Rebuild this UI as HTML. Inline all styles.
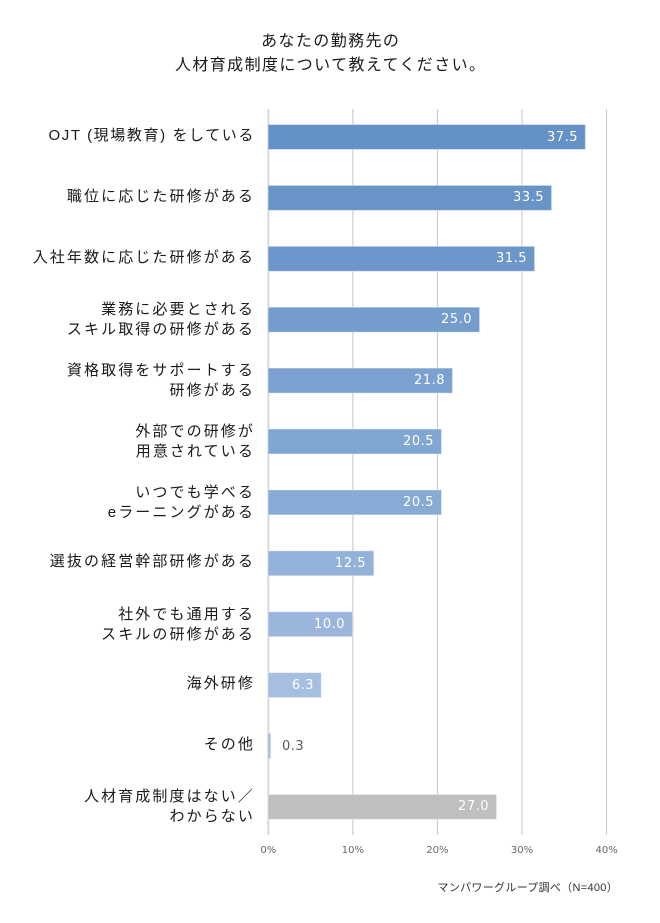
<!DOCTYPE html>
<html><head><meta charset="utf-8">
<style>
html,body{margin:0;padding:0;background:#fff;}
#c{position:relative;width:660px;height:923px;overflow:hidden;background:#fff;font-family:"Liberation Sans","Noto Sans CJK JP",sans-serif;color:#1a1a1a;}
.t{position:absolute;left:0;width:660px;text-align:center;font-size:16px;line-height:24px;letter-spacing:1.4px;padding-left:1.4px;box-sizing:border-box;}
.lb{position:absolute;right:405px;width:250px;text-align:right;font-size:15px;line-height:20px;letter-spacing:2.1px;white-space:nowrap;color:#1a1a1a;}
.v{position:absolute;font-family:"DejaVu Sans","Liberation Sans",sans-serif;font-size:13px;line-height:25px;letter-spacing:0.5px;color:#fff;text-align:right;width:60px;}
.tk{position:absolute;top:845px;width:40px;margin-left:-20px;text-align:center;font-family:"DejaVu Sans","Liberation Sans",sans-serif;font-size:10px;line-height:12px;color:#666;}
.src{position:absolute;right:42px;top:881px;font-size:11px;line-height:14px;letter-spacing:0.3px;color:#333;white-space:nowrap;}
</style></head><body>
<div id="c">
<div class="t" style="top:30px">あなたの勤務先の</div>
<div class="t" style="top:54px">人材育成制度について教えてください。</div>

<svg width="660" height="923" style="position:absolute;left:0;top:0">
  <g stroke="#C6C6C6" stroke-width="1">
    <line x1="352.9" y1="109" x2="352.9" y2="835"/>
    <line x1="437.4" y1="109" x2="437.4" y2="835"/>
    <line x1="522" y1="109" x2="522" y2="835"/>
    <line x1="606.6" y1="109" x2="606.6" y2="835"/>
  </g>
  <line x1="268.3" y1="109" x2="268.3" y2="835" stroke="#D9D9D9" stroke-width="2"/>
  <g stroke="rgba(255,255,255,0.4)" stroke-width="1">
    <rect x="268" y="124.5" width="317.4" height="25" fill="#6592C6"/>
    <rect x="268" y="185.4" width="283.6" height="25" fill="#6994C8"/>
    <rect x="268" y="246.3" width="266.6" height="25" fill="#6D97CA"/>
    <rect x="268" y="307.2" width="211.6" height="25" fill="#749DCD"/>
    <rect x="268" y="368.1" width="184.5" height="25" fill="#7AA1CF"/>
    <rect x="268" y="429" width="173.5" height="25" fill="#80A6D2"/>
    <rect x="268" y="489.9" width="173.5" height="25" fill="#87ABD5"/>
    <rect x="268" y="550.8" width="105.8" height="25" fill="#93B2D9"/>
    <rect x="268" y="611.7" width="84.6" height="25" fill="#9AB7DB"/>
    <rect x="268" y="672.6" width="53.3" height="25" fill="#A6BEDF"/>
    <rect x="268" y="733.5" width="2.6" height="25" fill="#ABC2E1" stroke="none"/>
    <rect x="268" y="794.4" width="228.6" height="25" fill="#BFBFBF"/>
  </g>
</svg>

<div class="lb" style="top:126px;letter-spacing:1.6px">OJT (現場教育) をしている</div>
<div class="lb" style="top:187px">職位に応じた研修がある</div>
<div class="lb" style="top:248px">入社年数に応じた研修がある</div>
<div class="lb" style="top:300px">業務に必要とされる<br>スキル取得の研修がある</div>
<div class="lb" style="top:361px">資格取得をサポートする<br>研修がある</div>
<div class="lb" style="top:422px">外部での研修が<br>用意されている</div>
<div class="lb" style="top:483px">いつでも学べる<br>eラーニングがある</div>
<div class="lb" style="top:552px">選抜の経営幹部研修がある</div>
<div class="lb" style="top:605px">社外でも通用する<br>スキルの研修がある</div>
<div class="lb" style="top:674px">海外研修</div>
<div class="lb" style="top:735px">その他</div>
<div class="lb" style="top:787px">人材育成制度はない／<br>わからない</div>

<div class="v" style="left:518px;top:124.5px">37.5</div>
<div class="v" style="left:484px;top:185.4px">33.5</div>
<div class="v" style="left:467px;top:246.3px">31.5</div>
<div class="v" style="left:412px;top:307.2px">25.0</div>
<div class="v" style="left:385px;top:368.1px">21.8</div>
<div class="v" style="left:374px;top:429px">20.5</div>
<div class="v" style="left:374px;top:489.9px">20.5</div>
<div class="v" style="left:306px;top:550.8px">12.5</div>
<div class="v" style="left:285px;top:611.7px">10.0</div>
<div class="v" style="left:254px;top:672.6px">6.3</div>
<div class="v" style="left:282px;top:733.5px;color:#595959;text-align:left">0.3</div>
<div class="v" style="left:429px;top:794.4px">27.0</div>

<div class="tk" style="left:268.3px">0%</div>
<div class="tk" style="left:352.9px">10%</div>
<div class="tk" style="left:437.4px">20%</div>
<div class="tk" style="left:522px">30%</div>
<div class="tk" style="left:606.6px">40%</div>

<div class="src">マンパワーグループ調べ（N=400）</div>
</div>
</body></html>
